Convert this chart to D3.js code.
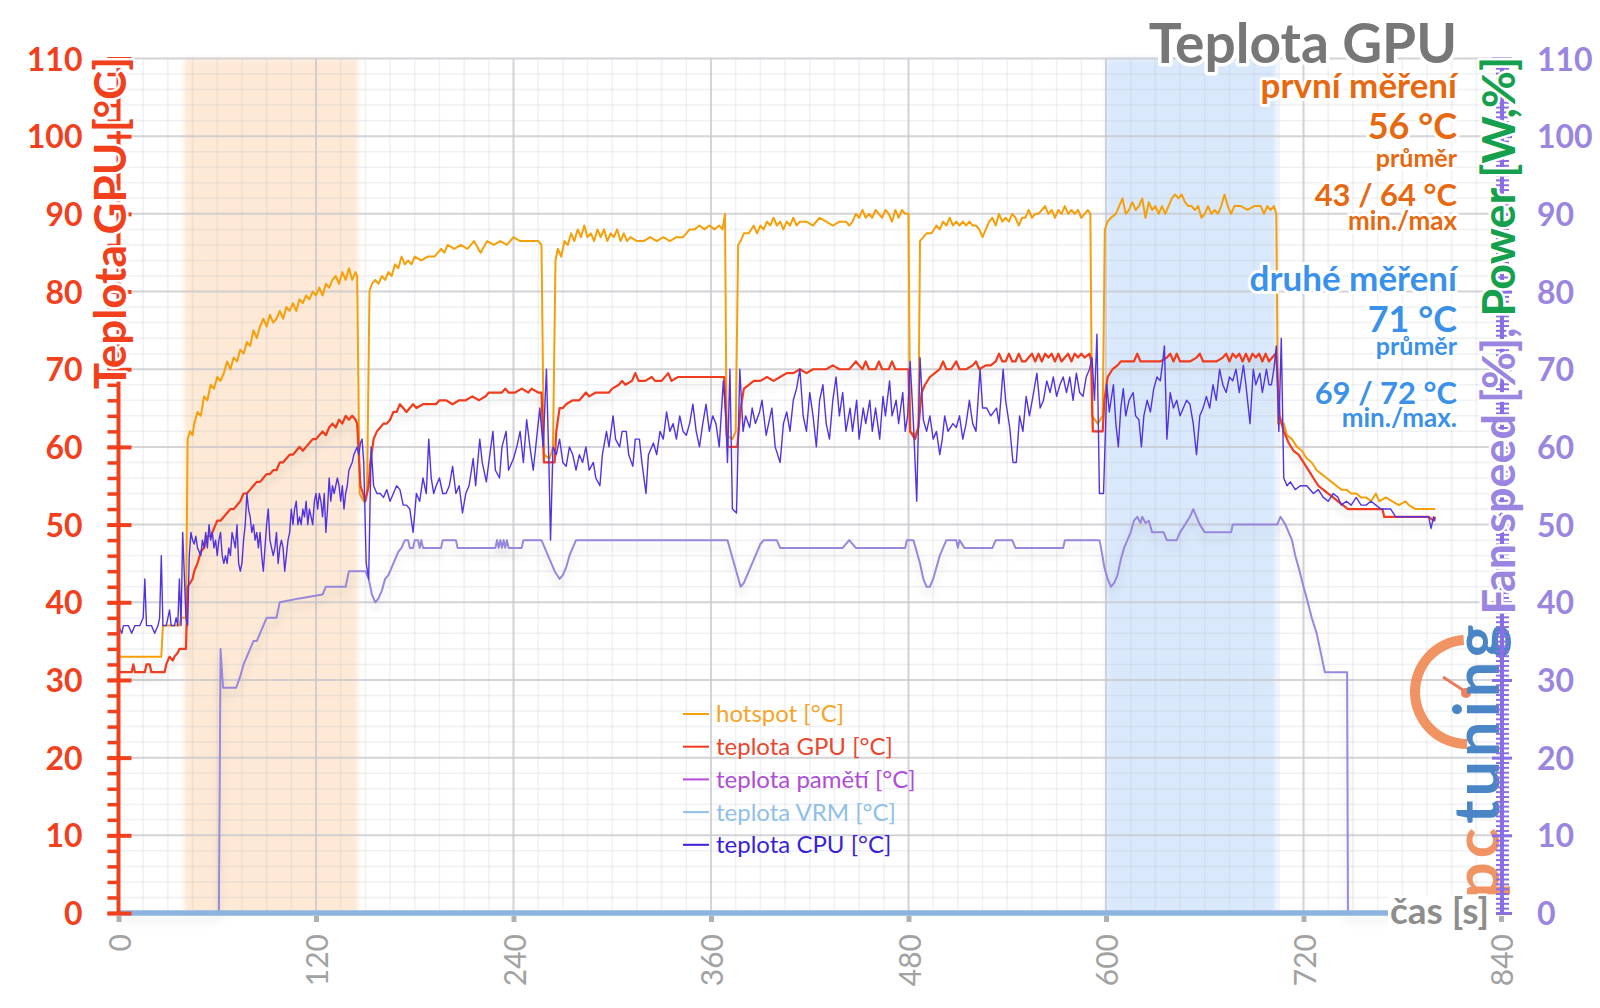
<!DOCTYPE html>
<html><head><meta charset="utf-8">
<script src="https://cdn.jsdelivr.net/npm/d3@7"></script>
<style>
body{margin:0;background:#fff}
svg{display:block}
text{font-family:Lato,"Open Sans","DejaVu Sans",sans-serif}
</style>
</head><body><svg id="c" width="1600" height="1008"></svg>
<script>
// ---------------- DATA ----------------
const xTickValues=[0,120,240,360,480,600,720,840];
const yTickValues=[0,10,20,30,40,50,60,70,80,90,100,110];
const firstRun=[40,145.5];
const secondRun=[600,703.5];

const hotspot=[[0,33],[26,33],[27,37],[37,37],[38,38],[41,38],[42,61],[43.5,62],[45,61.5],[46,63],[48,64.5],[50,64],[52,66.5],[54,66],[56,68],[58,67.5],[60,69],[62,68.5],[64,69.5],[66,71],[68,70],[70,71.5],[72,71],[74,72.5],[76,72],[78,73.5],[80,73],[82,75],[84,74],[86,75.5],[88,76.5],[90,75.5],[92,77],[94,76],[96,76.5],[98,77.5],[100,76.5],[102,78],[104,77.5],[106,78.5],[108,77.5],[110,79],[112,78.5],[114,79.5],[116,79],[118,80],[120,79.5],[122,80.5],[124,79.5],[126,81],[128,80.5],[130,81.5],[132,82],[134,81],[136,82.5],[138,81.5],[140,83],[142,81.5],[144,82.5],[145,82],[146.5,54],[149,53],[151,54],[152.5,80],[154,81],[156,81.5],[158,81],[160,82],[162,81.5],[164,82.5],[166,82],[168,83.5],[170,83],[172,84.5],[174,83.5],[176,84],[178,83.5],[180,84.5],[184,84],[188,84.5],[192,84.5],[196,85.5],[198,85],[200,86],[204,85.5],[208,86],[212,85.5],[216,86.5],[220,85],[224,86.5],[228,86],[232,86.5],[236,86],[240,87],[244,86.5],[248,86.5],[252,86.5],[255,86.5],[257,86],[258.5,59],[262,58.5],[264,60],[265.5,84],[267,85.5],[269,84.5],[271,86.5],[273,86],[275,87.5],[277,86.5],[279,88],[281,87],[283,88.5],[285,87],[287,87.5],[289,86.5],[291,88],[293,87],[295,88],[297,86.5],[299,87.5],[301,87],[303,88],[305,86.5],[307,87.5],[309,86.5],[311,87],[315,86.5],[319,86.5],[323,87],[327,86.5],[331,87],[335,86.5],[339,87],[343,87],[345,87.5],[347,88],[350,88],[353,88.5],[356,88],[359,88.5],[362,88],[365,88.5],[367,88],[368.5,90],[369.5,61.5],[373,61],[375,62],[376.5,86],[378,86.5],[380,87.5],[383,87.5],[386,88.5],[388,87.5],[390,88.5],[392,88],[394,89],[396,88.5],[398,89.5],[400,88.5],[402,89],[404,88],[406,89],[408,88.5],[410,89.5],[412,88.5],[414,89],[418,89],[422,88.5],[426,89.5],[430,89],[434,88.5],[438,89],[442,89],[444,88.5],[446,89],[448,90],[450,89.5],[452,90.5],[454,89.5],[456,90],[458,89.5],[460,90.5],[462,90],[464,89.5],[466,90.5],[468,90],[470,89],[472,90.5],[474,89.5],[476,90.5],[478,90],[480,90],[481,62],[484,61.5],[486,62.5],[487,86.5],[489,87],[491,87.5],[494,87.5],[497,88.5],[499,88],[501,89],[503,88.5],[505,89.5],[507,88.5],[509,89],[511,88.5],[513,89],[515,88.5],[517,89],[519,88.5],[521,88.5],[523,88],[525,87],[527,88],[529,89],[531,89.5],[533,88.5],[535,90],[537,89],[539,89.5],[541,89],[543,90],[545,89.5],[547,88.5],[549,89.5],[551,89.5],[553,90.5],[555,89.5],[557,90],[559,90],[561,90.5],[563,91],[565,90],[567,90.5],[569,89.5],[571,90.5],[573,90],[575,91],[577,90],[579,90.5],[581,90],[583,90.5],[585,89.5],[587,90],[589,90.5],[590.5,90],[591.5,64],[595,63],[598,64],[599.3,88],[601,89],[603,89.5],[606,90],[608,91],[610,92],[612,90],[614,90.5],[616,91.5],[618,90.5],[620,91],[622,92],[624,89.5],[626,91.5],[628,90.5],[630,91],[632,90],[634,91],[636,90],[638,91],[640,92],[642,92.5],[644,92],[646,92.5],[648,91.5],[650,91],[652,91],[654,90.5],[656,91],[658,89.5],[660,90],[662,91],[664,90],[666,90.5],[668,90],[670,91],[672,92.5],[674,91],[676,90],[678,91],[682,91],[686,90.5],[690,91],[694,91],[696,90],[698,91],[700,90.5],[702,91],[703.5,90],[704.5,63],[708,63],[710,61.5],[713,61],[716,60],[719,59.5],[722,58.5],[725,58],[728,57],[731,56.5],[734,56],[737,55.5],[740,55],[743,54.5],[746,54.5],[749,54],[752,54],[755,53.5],[758,53.5],[761,53],[764,54],[766,53],[770,53.5],[774,53],[778,52.5],[782,53],[784,52.5],[788,52],[794,52],[800,52]];

const gpuTemp=[[0,31],[8,31],[9,32],[10,31],[16,31],[17,32],[19,32],[20,31],[28,31],[29,32],[31,33],[33,32.5],[34,33],[36,33.5],[37,34],[41,34],[42,42],[43.5,42.5],[45,43],[46,44],[48,45],[50,46.5],[52,47],[54,48.5],[56,48.5],[58,49.5],[60,50.5],[62,50.5],[64,51],[66,51.5],[68,52],[70,52],[72,52.5],[74,53],[76,54],[78,54],[80,54.5],[82,55],[84,55.5],[86,55.5],[88,56],[90,56.5],[92,56.5],[94,57],[96,57],[98,58],[100,58],[102,58.5],[104,59],[106,59],[108,59.5],[110,60],[112,59.5],[114,60],[116,60.5],[118,61],[120,61],[122,61.5],[124,62],[126,61.5],[128,62.5],[130,63],[132,62.5],[134,63.5],[136,63],[138,64],[140,63.5],[142,64],[144,63.5],[145,63],[147,55],[150,53],[152,55],[153,58],[155,61],[157,62],[159,62.5],[161,63],[163,63],[165,63.5],[167,64.5],[169,64.5],[171,65.5],[173,65],[175,64.5],[177,65],[179,65.5],[181,65],[185,65.5],[189,65.5],[193,65.5],[195,66],[199,66],[203,65.5],[207,66],[211,66],[215,66.5],[219,66],[223,66.5],[225,67],[229,67],[233,67],[235,67.5],[237,67],[241,67],[245,67.5],[249,67],[251,67.5],[255,67],[257,67],[258.5,58],[265,58],[266,62],[268,65],[270,65],[272,65.5],[276,66],[280,66],[284,67],[286,66.5],[290,67],[294,67],[298,67],[300,67.5],[304,68],[306,68.5],[308,68],[312,68.5],[314,69.5],[316,68.5],[320,68.5],[324,69],[326,68.5],[330,68.5],[334,69.5],[336,68.5],[340,69],[344,69],[348,69],[352,69],[356,69],[360,69],[364,69],[368,69],[370,60],[376,60],[378,65],[380,67.5],[383,68],[386,68.5],[390,68.5],[394,69],[398,68.5],[402,69],[406,69.5],[410,69.5],[414,70],[418,69.5],[422,70],[426,70],[430,70],[434,70.5],[438,70],[442,70],[444,70],[446,70.5],[448,71],[450,70.5],[452,70],[454,71],[456,70],[458,70],[460,70],[462,71],[464,70],[466,70],[468,70],[470,71],[472,70],[474,70],[476,70],[478,70],[480,70],[481,62],[484,61],[486,62.5],[488,67],[490,68],[493,69],[496,69.5],[499,70],[501,71],[503,70],[506,70],[509,71],[511,70],[515,70],[519,70.5],[521,71],[523,70],[527,70.5],[530,70.5],[533,71],[535,72],[537,71],[539,71],[541,72],[543,71],[545,71],[547,72],[549,71],[551,71],[553,71.5],[555,72],[557,71],[559,72],[561,71],[563,72],[565,71.5],[567,72],[569,71],[571,72],[573,71],[575,71.5],[577,72],[579,71],[581,72],[583,71.5],[585,72],[587,71.5],[590,72],[591,71],[592,62],[598,62],[599,66],[601,69],[604,70],[607,70.5],[609,71],[613,71],[617,71],[619,72],[621,71],[625,71],[629,71],[633,71],[637,71.5],[639,72],[641,71],[643,72],[645,71],[647,71],[651,71],[655,71.5],[657,72],[659,71],[663,71],[667,71],[671,71.5],[673,72],[675,71],[677,72],[679,71.5],[681,72],[683,71],[685,72],[687,71],[689,72],[691,71.5],[693,72],[695,71],[697,72],[699,71],[701,71.5],[703,72],[704,70],[705.5,64],[708,62],[711,60.5],[714,59.5],[717,59],[720,58],[723,57],[726,56],[729,55],[732,54.5],[735,54],[738,53.5],[741,53],[744,52.5],[747,52],[768,52],[769,51],[785,51],[790,51],[796,51],[799,50.5],[800,51]];

const memTemp=[[0,0],[800,0]];
const vrmTemp=[[0,0],[800,0]];

const cpuTemp=[[0,37],[2,36],[3,37],[6,37],[8,36],[10,37],[13,37],[15,38],[16,43],[17,37],[20,37],[22,36],[24,37],[25,38],[26,46],[27,37],[29,37],[31,39],[32,37],[34,37],[35,38],[36,37],[37,43],[38,37],[39,49],[41,38],[42,37],[43,46],[44,49],[45,48],[46,47.5],[47,48.5],[48,47],[50,46],[51,48],[52,47],[53,49],[54,47],[55,50],[56,48],[57,49],[58,47],[59,48],[60,46],[61,48],[62,49],[63,46],[64,45],[65,46],[66,45],[67,47],[68,46],[69,49],[70,48],[71,47],[72,50],[73,45],[74,44],[75,45],[76,48],[77,50],[78,54],[79,52],[80,51],[81,49],[82,50],[83,48],[84,49],[85,47],[86,49],[87,46],[88,44],[89,47],[90,50],[91,52],[92,48],[93,47],[94,46],[95,47],[96,49],[97,45],[98,47],[99,48],[100,47],[101,44],[102,46],[103,48],[104,49],[105,52],[106,50],[107,52],[108,53],[109,50],[110,51],[111,50],[112,52],[113,51],[114,53],[115,50],[116,52],[117,51],[118,50],[119,53],[120,54],[121,52],[122,54],[123,53],[124,51],[125,54],[126,49],[127,52],[128,56],[129,53],[130,55],[131,54],[132,55],[133,56],[134,55],[135,53],[136,55],[137,52],[138,54],[139,55],[140,57],[141,57.5],[142,58],[143,59],[144,59.5],[145,60],[146,59],[147,60.5],[148,61],[149,58],[150.5,45],[152,43],[153.5,60],[155,55],[157,54],[159,54],[161,53.5],[163,54.5],[165,53],[167,54],[169,55],[171,54.5],[173,52.5],[175,52.5],[177,52],[179,49],[181,54],[183,53],[185,56],[187,54],[188.5,61],[190,56],[191.5,54],[193,55],[195,56],[197,54],[199,54],[201,55],[203,57.5],[205,54],[207,55],[209,51.5],[211,54],[213,55],[215.5,58.5],[217,55],[219.5,61],[221,58],[223.5,55.5],[225,58],[227.5,62],[229,57],[231.5,56],[233,60],[235.5,62],[237,57],[240,58.5],[242,60],[244,62],[246,58],[248,63.5],[250,60],[252,57],[254,61],[256,65],[258,60],[260,70],[261.5,58],[262.5,48],[264,60],[266,59],[268,61],[270,58],[272,57.5],[274,60],[276,59],[278,57],[280,59],[282,58],[284,60],[286,57],[288.5,58],[290,56],[292.5,55],[294,59],[296.5,62],[298,60],[300.5,64],[302,61],[304.5,60],[306,62],[308.5,62],[310,59],[312.5,57.5],[314,61],[316.5,61],[318,58],[320.5,54],[322,59],[325,60.5],[327,59],[329,62],[331,61],[333,64.5],[335,62],[337,63],[339,61],[341,64],[343,62],[345,61.5],[347,63],[349,65.5],[351,62],[353,60],[355,63],[357,65.5],[359,62],[361,64],[363,63],[365,60],[367.5,68.5],[369,64],[370,58],[371.5,70],[373,52],[375.5,51.5],[377.5,70],[379.5,62],[381,64],[383.5,62.5],[385,65],[387,63],[389.5,64.5],[391,66],[393.5,61.5],[395,63],[397,65],[399,60],[402,58],[404,63],[406,64.5],[408,62],[410,66],[412,67.5],[414,70],[416,64],[418,62],[420,67],[422,64],[424,60],[426,66],[428,68],[430,63],[432,61],[434,66],[436,69],[438,64],[440,67],[442,62],[444.5,65],[446,62],[448.5,66],[450,61],[452.5,65],[454,63],[456.5,66],[458,62],[460,65],[462.5,61],[464.5,66.5],[466,64],[468.5,68.5],[470,64],[472.5,66],[474,63],[476.5,67],[478,62],[479.5,64],[481,71],[483,63],[485,53],[487,71.5],[489,63.5],[491,62],[493,64],[495,61],[497,62],[499,59],[500.5,61],[502,64],[504,62],[507,63],[509,62.5],[511,64],[513,61],[515,63],[517,66],[519,63],[521,62],[523.5,70],[525,65],[527.5,65],[530,64],[533.5,65],[535,63],[537.5,70],[539,66],[541.5,62.5],[543.5,58],[545.5,58],[547.5,64],[549.5,62],[551.5,66.5],[553.5,64],[556,67],[558,69.5],[560,65],[562,66],[564,68.5],[566,67],[568,69],[570,66.5],[572,68],[574,69],[576,67],[578,69],[580,66],[582,69.5],[584,67],[586,66.5],[588,69],[590,70],[591.5,71.5],[593,66],[594.5,74.5],[596,54],[598.5,54],[600.5,68],[602,64.5],[604.5,68],[606,63],[607.5,60],[609,65],[610.5,67.5],[612,64],[614,66],[616.5,67],[618,64],[620,63.5],[621.5,60],[623,64],[625,66],[627,64.5],[629,67.5],[631,69],[633,68.5],[634.5,71],[635.5,73],[637,61],[639,67],[641,65],[643,66],[645,64],[647,65],[649,66],[651,65.5],[653,63],[655,59],[657,64],[659,65],[661,66.5],[663,65],[665,68],[667,66],[669,70],[671,68],[673,67],[675,69],[677,68.5],[679,70],[681,67],[683.5,70.5],[685,68],[687.5,63],[689.5,70],[691,68],[693.5,69.5],[695,67],[697.5,70],[699,68],[700.5,68],[702,70],[703.5,73],[705,62],[706.5,74],[708,56],[710,55],[712,55.5],[715,54.5],[718,55],[722,55],[726,54],[729,54.5],[732,53.5],[735,53],[738,54],[741,53.5],[743,52.5],[746,53],[749,52.5],[752,53.5],[755,52.5],[758,52.5],[761,53],[764,52.5],[767,52],[770,52],[773,52],[776,51],[780,51],[784,51],[790,51],[796,51],[797.5,49.5],[799,51],[800,50.5]];

const fanSpeed=[[0,0],[61,0],[62,34],[63.5,29],[71.5,29],[74,30.5],[76,32],[78,33],[80,34],[82,35],[84,35],[86,36],[88,37],[90,38],[96,38],[98,40],[110,40.5],[124,41],[126,42],[138,42],[139,43],[140,44],[150,44],[152,43],[154,41],[156,40],[158,40.5],[160,41.5],[162,43],[164,43.5],[166,44.5],[168,45.5],[170,46.5],[172,47],[174,48],[176,48],[177,47],[179,47],[180,48],[182,48],[183,47],[184,48],[185,47],[196,47],[197,48],[205,48],[206,47],[229,47],[230,48],[231,47],[232,48],[233,47],[234,48],[235,47],[236,48],[237,47],[245,47],[246,48],[257,48],[259,47],[261,46],[263,45],[265,44],[268,43],[270,43.5],[272,44.5],[274,46],[276,47],[278,48],[370,48],[372,46.5],[374,45],[376,43.5],[378,42],[380,42.5],[382,43.5],[384,44.5],[386,45.5],[388,46.5],[390,47.5],[392,48],[400,48],[402,47],[440,47],[444,48],[448,47],[478,47],[479,48],[483,48],[485,46.5],[487,45],[489,43],[491,42],[493,42],[495,43],[497,44.5],[499,46],[501,47],[503,48],[509,48],[510,47],[511,48],[514,47],[531,47],[533,48],[543,48],[545,47],[574,47],[575,48],[596,48],[597,47],[599,44.5],[601,43],[603,42],[605,42.5],[607,43.5],[609,45.5],[611,47],[613,48],[615,49],[617,50.5],[619,51],[621,50.2],[622,51],[624,50.2],[626,50.5],[628,49],[635,49],[637,48],[643,48],[645,49],[648,50],[651,51],[653,52],[655,51],[657,50],[660,49],[676,49],[677,50],[704,50],[706,51],[709,50],[711,49],[713,48],[715,46],[717,44.5],[720,42],[722,40.5],[725,38],[728,36],[731,33],[733,31],[746.5,31],[747,0],[800,0]];

const legendLabels=["hotspot [°C]","teplota GPU [°C]","teplota pamětí [°C]","teplota VRM [°C]","teplota CPU [°C]"];
const firstStats=["první měření","56 °C","průměr","43 / 64 °C","min./max"];
const secondStats=["druhé měření","71 °C","průměr","69 / 72 °C","min./max."];
const chartTitle="Teplota GPU";
const leftTitle="Teplota GPU [°C]";
const rightTitleA="Fan speed [%], ";
const rightTitleB="Power [W,%]";
const xTitle="čas [s]";

// ---------------- DRAWING ----------------
const svg=d3.select("#c");
const x=d3.scaleLinear().domain([0,840]).range([118.5,1501]);
const y=d3.scaleLinear().domain([0,110]).range([913,58.5]);

const defs=svg.append("defs");
defs.append("filter").attr("id","blur").attr("x","-10%").attr("width","120%")
  .append("feGaussianBlur").attr("stdDeviation",2.5);
defs.append("filter").attr("id","sh").attr("x","-5%").attr("y","-10%").attr("width","110%").attr("height","130%")
  .append("feDropShadow").attr("dx",0).attr("dy",7).attr("stdDeviation",4)
  .attr("flood-color","#000").attr("flood-opacity",0.13);

// shaded regions
svg.append("rect").attr("x",x(firstRun[0])).attr("width",x(firstRun[1])-x(firstRun[0]))
  .attr("y",y(110)).attr("height",y(0)-y(110)).attr("fill","#fde9d5").attr("filter","url(#blur)");
svg.append("rect").attr("x",x(secondRun[0])).attr("width",x(secondRun[1])-x(secondRun[0]))
  .attr("y",y(110)).attr("height",y(0)-y(110)).attr("fill","#d9e8fb").attr("filter","url(#blur)");

// grid
const grid=svg.append("g");
grid.selectAll(".mx").data(d3.range(0,841,15)).join("line")
  .attr("x1",d=>x(d)).attr("x2",d=>x(d)).attr("y1",y(110)).attr("y2",y(0))
  .attr("stroke","#b8bfcc").attr("stroke-opacity",0.22).attr("stroke-width",1.5);
grid.selectAll(".my").data(d3.range(0,111,2)).join("line")
  .attr("x1",x(0)).attr("x2",x(840)).attr("y1",d=>y(d)).attr("y2",d=>y(d))
  .attr("stroke","#b8bfcc").attr("stroke-opacity",0.22).attr("stroke-width",1.5);
grid.selectAll(".Mx").data(xTickValues).join("line")
  .attr("x1",d=>x(d)).attr("x2",d=>x(d)).attr("y1",y(110)).attr("y2",y(0))
  .attr("stroke","#c8c8cc").attr("stroke-opacity",0.7).attr("stroke-width",2);
grid.selectAll(".My").data(yTickValues).join("line")
  .attr("x1",x(0)).attr("x2",x(840)).attr("y1",d=>y(d)).attr("y2",d=>y(d))
  .attr("stroke","#c8c8cc").attr("stroke-opacity",0.7).attr("stroke-width",2);

// lines
const line=d3.line().x(d=>x(d[0])).y(d=>y(d[1]));
const series=[
  {data:memTemp,color:"#b54ad8",w:2,sh:false},
  {data:fanSpeed,color:"#9887dc",w:2,sh:true},
  {data:hotspot,color:"#f5a00a",w:2,sh:false},
  {data:gpuTemp,color:"#f23b1b",w:2.2,sh:true},
  {data:cpuTemp,color:"#5034e4",w:1.4,sh:false},
  {data:vrmTemp,color:"#8cb4de",w:5.5,sh:false}
];
svg.append("g").selectAll("path").data(series).join("path")
  .attr("d",d=>line(d.data)).attr("fill","none")
  .attr("stroke",d=>d.color).attr("stroke-width",d=>d.w)
  .attr("stroke-linejoin","round")
  .attr("filter",d=>d.sh?"url(#sh)":null);

function halo(sel,w){return sel.attr("stroke","#fff").attr("stroke-width",w||6)
  .attr("stroke-linejoin","round").attr("paint-order","stroke");}

// logo
const logo=svg.append("g").attr("opacity",0.92);
const arc=d3.arc().innerRadius(47).outerRadius(57).startAngle(-Math.PI).endAngle(-Math.PI*0.02);
logo.append("path").attr("d",arc()).attr("transform","translate(1467,692)").attr("fill","#f08a55");
const arcB=d3.arc().innerRadius(47).outerRadius(57).startAngle(-Math.PI*0.25).endAngle(-Math.PI*0.18);
logo.append("path").attr("d",arcB()).attr("transform","translate(1467,692) scale(-1,1)").attr("fill","#3b7cc2");
logo.append("line").attr("x1",1466).attr("y1",692).attr("x2",1443).attr("y2",677)
  .attr("stroke","#e8714d").attr("stroke-width",3);
logo.append("circle").attr("cx",1466).attr("cy",693).attr("r",5).attr("fill","#ee7650");
const lt=logo.append("text").attr("transform","translate(1499,898) rotate(-90)")
  .attr("font-size",63).attr("font-weight",700).attr("letter-spacing",4);
lt.append("tspan").attr("fill","#f08a55").text("pc");
lt.append("tspan").attr("fill","#3b7cc2").text("tuning");

// left axis
const red="#f2401d";
const gL=svg.append("g").attr("transform",`translate(${x(0)},0)`);
gL.append("line").attr("y1",y(0)).attr("y2",y(110)).attr("stroke",red).attr("stroke-width",4);
const minorL=d3.axisLeft(y).tickValues(d3.range(0,111,2)).tickSize(11).tickFormat("");
gL.append("g").call(minorL).call(g=>{g.select(".domain").remove();
  g.selectAll(".tick line").attr("stroke",red).attr("stroke-width",3.5);});
const majorL=d3.axisLeft(y).tickValues(yTickValues).tickSize(11).tickPadding(25).tickFormat(d3.format("d"));
gL.append("g").call(majorL).call(g=>{g.select(".domain").remove();
  g.selectAll(".tick line").attr("x1",13).attr("x2",-11).attr("stroke",red).attr("stroke-width",4);
  g.selectAll(".tick text").attr("fill",red).attr("font-size",32).attr("font-weight",700)
   .attr("font-family","Lato,sans-serif").attr("dy","0.36em");});
halo(svg.append("text").attr("transform","translate(126,57) rotate(-90)")
  .attr("text-anchor","end").attr("font-size",44).attr("font-weight",700).attr("fill",red)
  .text(leftTitle),5);

// right axis
const purple="#9a86e0";
const gR=svg.append("g").attr("transform",`translate(${x(840)+1},0)`);
gR.append("line").attr("y1",y(0)).attr("y2",y(110)).attr("stroke","#8a6ee6").attr("stroke-width",4);
const minorR=d3.axisRight(y).tickValues(d3.range(0,110.01,0.625)).tickSize(7).tickFormat("");
gR.append("g").call(minorR).call(g=>{g.select(".domain").remove();
  g.selectAll(".tick line").attr("x1",-6).attr("stroke","#8a6ee6").attr("stroke-width",2);});
const majorR=d3.axisRight(y).tickValues(yTickValues).tickSize(10).tickPadding(25).tickFormat(d3.format("d"));
gR.append("g").call(majorR).call(g=>{g.select(".domain").remove();
  g.selectAll(".tick line").attr("x1",-10).attr("stroke","#8a6ee6").attr("stroke-width",3);
  g.selectAll(".tick text").attr("fill",purple).attr("font-size",32).attr("font-weight",700)
   .attr("font-family","Lato,sans-serif").attr("dy","0.36em");});
const rt=halo(svg.append("text").attr("transform","translate(1515,57) rotate(-90)")
  .attr("text-anchor","end").attr("font-size",45).attr("font-weight",700),5);
rt.append("tspan").attr("fill",purple).text(rightTitleA);
rt.append("tspan").attr("fill","#14a04c").text(rightTitleB);

// bottom axis
const gB=svg.append("g").attr("transform",`translate(0,${y(0)})`);
const axB=d3.axisBottom(x).tickValues(xTickValues).tickSize(9).tickFormat(d3.format("d"));
gB.call(axB).call(g=>{g.select(".domain").remove();
  g.selectAll(".tick line").attr("stroke","#b0b0b0").attr("stroke-width",5).attr("y1",3);
  g.selectAll(".tick text").attr("transform","rotate(-90)").attr("x",-21).attr("y",1)
   .attr("dy","0.36em").attr("text-anchor","end").attr("fill","#a2a2a2")
   .attr("font-size",30).attr("font-family","Lato,sans-serif");});
svg.append("rect").attr("x",1388).attr("y",896).attr("width",108).attr("height",34).attr("fill","#fff");
halo(svg.append("text").attr("x",1390).attr("y",924).attr("font-size",37).attr("font-weight",700)
  .attr("fill","#8d8d8d").text(xTitle),5);

// legend
const legColors=["#f5a00a","#f23b1b","#b54ad8","#93bfe8","#3a1fd6"];
const legText=["#f4a52a","#e8472e","#b04cd6","#8fc0ea","#3a1fd6"];
const leg=svg.append("g").selectAll("g").data(legendLabels).join("g")
  .attr("transform",(d,i)=>`translate(683,${714+i*32.7})`);
leg.append("line").attr("x1",0).attr("x2",26).attr("stroke",(d,i)=>legColors[i]).attr("stroke-width",2);
leg.append("text").attr("x",33).attr("dy","0.35em").attr("font-size",24)
  .attr("fill",(d,i)=>legText[i]).text(d=>d);

// title + stats
halo(svg.append("text").attr("x",1457).attr("y",63).attr("text-anchor","end")
  .attr("font-size",55).attr("font-weight",700).attr("fill","#777").text(chartTitle),7);
const orange="#e8680f", blue="#3a91ea";
const statSizes=[35,36,25,31,26];
const statY1=[98,139,167,206,230];
const statY2=[291,332,355,404,427];
firstStats.forEach((s,i)=>halo(svg.append("text").attr("x",1457).attr("y",statY1[i])
  .attr("text-anchor","end").attr("font-size",statSizes[i]).attr("font-weight",700)
  .attr("fill",orange).text(s),6));
secondStats.forEach((s,i)=>halo(svg.append("text").attr("x",1457).attr("y",statY2[i])
  .attr("text-anchor","end").attr("font-size",statSizes[i]).attr("font-weight",700)
  .attr("fill",blue).text(s),6));
</script>
</body></html>
